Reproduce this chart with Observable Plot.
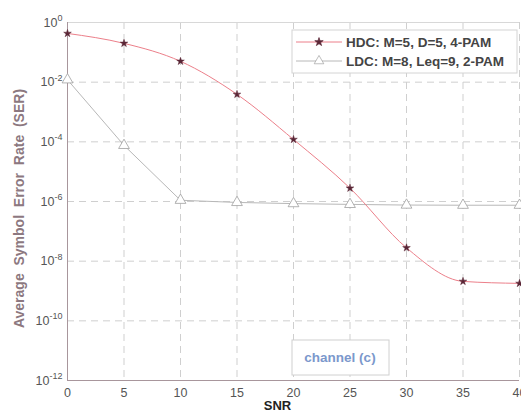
<!DOCTYPE html>
<html><head><meta charset="utf-8">
<script src="https://cdn.jsdelivr.net/npm/d3@7"></script>
<script src="https://cdn.jsdelivr.net/npm/@observablehq/plot@0.6"></script>
<style>
body{margin:0;background:#fff;}
svg{font-family:"Liberation Sans",Arial,sans-serif;}
</style></head><body><div id="chart"></div>
<script>
const snr = [0, 5, 10, 15, 20, 25, 30, 35, 40];
const hdcSER = [0.43, 0.2, 0.05, 0.0039, 1.2e-4, 2.8e-6, 2.8e-8, 2.1e-9, 1.8e-9];
const ldcSER = [1.2e-2, 7.6e-5, 1.1e-6, 9.3e-7, 8.5e-7, 8e-7, 7.6e-7, 7.5e-7, 7.5e-7];
const xTicks = [0, 5, 10, 15, 20, 25, 30, 35, 40];
const yTicks = [1, 1e-2, 1e-4, 1e-6, 1e-8, 1e-10, 1e-12];
const seriesNames = ["HDC: M=5, D=5, 4-PAM", "LDC: M=8, Leq=9, 2-PAM"];
const yLabel = "Average  Symbol  Error  Rate  (SER)";
const xLabel = "SNR";
const annotation = "channel (c)";

const hdc = snr.map((x, i) => ({x, y: hdcSER[i]}));
const ldc = snr.map((x, i) => ({x, y: ldcSER[i]}));

const red = "#ec7f8a", gray = "#b8b8b8", starFill = "#5a2636";

const plot = Plot.plot({
  width: 521, height: 416,
  marginLeft: 67, marginRight: 2, marginTop: 22, marginBottom: 36,
  style: {fontSize: "12.5px", color: "#555", background: "#fff", overflow: "visible"},
  x: {domain: [0, 40], ticks: xTicks, tickSize: 0, tickPadding: 8, label: null},
  y: {type: "log", domain: [1e-12, 1], ticks: yTicks, tickSize: 0, tickPadding: 5, label: null,
      tickFormat: d => `10^${Math.round(Math.log10(d))}`},
  marks: [
    Plot.gridX(xTicks, {stroke: "#cfcfcf", strokeOpacity: 1, strokeDasharray: "7,5"}),
    Plot.gridY(yTicks.filter(v => v !== 1 && v !== 1e-12), {stroke: "#cfcfcf", strokeOpacity: 1, strokeDasharray: "7,5"}),
    Plot.ruleY([1], {stroke: "#d8d8d8"}),
    Plot.ruleX([0], {stroke: "#a8969c"}),
    Plot.ruleY([1e-12], {stroke: "#a8969c"}),
    Plot.line(ldc, {x: "x", y: "y", stroke: gray, strokeWidth: 1}),
    Plot.dot(ldc, {x: "x", y: "y", symbol: "triangle", r: 4, stroke: "#a0a0a0", fill: "#fff", strokeWidth: 0.8}),
    Plot.line(hdc, {x: "x", y: "y", stroke: red, strokeWidth: 1, curve: "monotone-x"}),
    Plot.dot(hdc, {x: "x", y: "y", symbol: "star", r: 2.4, fill: starFill, stroke: starFill, strokeWidth: 0.5}),
    Plot.text([yLabel], {frameAnchor: "left", textAnchor: "middle", dx: -48, dy: 7, rotate: -90, fontWeight: "bold", fontSize: 14, fill: "#8c7880", text: d => d}),
    Plot.text([xLabel], {frameAnchor: "bottom", dx: -16, dy: 29, fontWeight: "bold", fontSize: 13, fill: "#222", text: d => d})
  ]
});

// superscript exponents on y tick labels
d3.select(plot).selectAll('g[aria-label="y-axis tick label"] text').each(function() {
  const t = d3.select(this);
  const s = t.text();
  if (s.includes("^")) {
    const [b, e] = s.split("^");
    t.text(b);
    t.append("tspan").attr("dy", "-0.6em").attr("font-size", "9px").text(e);
  }
});

const svg = d3.select(plot);
// legend
const lg = svg.append("g").attr("font-size", 13.5).attr("font-weight", "bold").attr("text-anchor", "start");
lg.append("rect").attr("x", 292).attr("y", 30).attr("width", 225).attr("height", 43)
  .attr("fill", "#fff").attr("stroke", "#d4d4d4");
const rows = [
  {y: 42, stroke: red, sym: d3.symbolStar, size: 22, fill: starFill, sstroke: starFill},
  {y: 61, stroke: gray, sym: d3.symbolTriangle, size: 40, fill: "#fff", sstroke: "#a0a0a0"}
];
rows.forEach((r, i) => {
  lg.append("line").attr("x1", 296).attr("x2", 342).attr("y1", r.y).attr("y2", r.y).attr("stroke", r.stroke);
  lg.append("path").attr("d", d3.symbol(r.sym, r.size)()).attr("transform", `translate(319,${r.y})`)
    .attr("fill", r.fill).attr("stroke", r.sstroke).attr("stroke-width", 0.7);
  lg.append("text").attr("x", 346).attr("y", r.y).attr("dy", "0.35em").attr("fill", "#444").text(seriesNames[i]);
});
// annotation box
const ab = svg.append("g");
ab.append("rect").attr("x", 292).attr("y", 340).attr("width", 97).attr("height", 35)
  .attr("fill", "#fff").attr("stroke", "#d0d0d0");
ab.append("text").attr("x", 340).attr("y", 357).attr("dy", "0.35em").attr("text-anchor", "middle")
  .attr("font-size", 13.5).attr("font-weight", "bold").attr("fill", "#7b98cc").text(annotation);

document.getElementById("chart").appendChild(plot);
</script></body></html>
